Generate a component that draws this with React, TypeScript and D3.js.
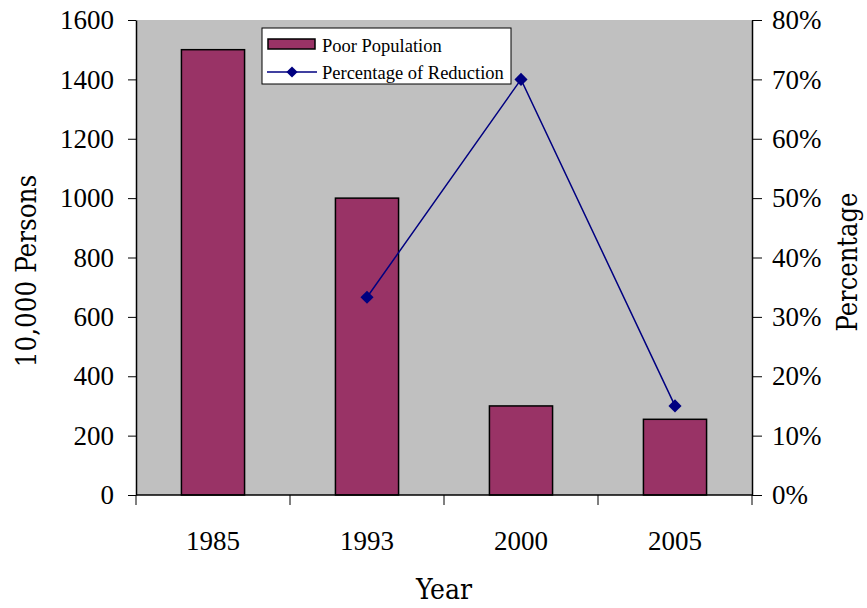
import React, { useRef, useEffect } from "react";
import * as d3 from "d3";

const years = ["1985", "1993", "2000", "2005"];
const poorPopulation = [1500, 1000, 300, 255];
const reductionYears = ["1993", "2000", "2005"];
const reductionPct = [33.3, 70, 15];
const leftTicks = [0, 200, 400, 600, 800, 1000, 1200, 1400, 1600];
const rightTicks = [0, 10, 20, 30, 40, 50, 60, 70, 80];

const App: React.FC = () => {
  const ref = useRef<SVGSVGElement>(null);

  useEffect(() => {
    if (!ref.current) return;
    const svg = d3.select(ref.current);
    svg.selectAll("*").remove();

    const width = 867;
    const height = 608;
    const left = 136;
    const right = 752;
    const top = 20;
    const bottom = 495;
    const numFont = "Liberation Serif, Times New Roman, serif";
    const titleFont = "DejaVu Serif Condensed, DejaVu Serif, serif";

    svg.attr("width", width).attr("height", height);

    const x = d3.scaleBand().domain(years).range([left, right]);
    const yL = d3.scaleLinear().domain([0, 1600]).range([bottom, top]);
    const yR = d3.scaleLinear().domain([0, 80]).range([bottom, top]);

    // plot area
    svg
      .append("rect")
      .attr("x", left)
      .attr("y", top)
      .attr("width", right - left)
      .attr("height", bottom - top)
      .attr("fill", "#C0C0C0");

    // bars
    const barW = x.bandwidth() * 0.41;
    svg
      .selectAll("rect.bar")
      .data(years)
      .enter()
      .append("rect")
      .attr("class", "bar")
      .attr("x", (d) => (x(d) ?? 0) + x.bandwidth() / 2 - barW / 2)
      .attr("y", (d, i) => yL(poorPopulation[i]))
      .attr("width", barW)
      .attr("height", (d, i) => bottom - yL(poorPopulation[i]))
      .attr("fill", "#993366")
      .attr("stroke", "#000")
      .attr("stroke-width", 1.5);

    // left axis
    const gL = svg
      .append("g")
      .attr("transform", `translate(${left},0)`)
      .call(
        d3
          .axisLeft(yL)
          .tickValues(leftTicks)
          .tickFormat(d3.format("d"))
          .tickSize(8)
          .tickPadding(14)
          .tickSizeOuter(0)
      );
    gL.attr("font-family", numFont);
    gL.selectAll("text").style("font-family", numFont).attr("font-size", 27).attr("fill", "#000");
    gL.select(".domain").attr("stroke", "#000").attr("stroke-width", 1.5);

    // right axis
    const gR = svg
      .append("g")
      .attr("transform", `translate(${right},0)`)
      .call(
        d3
          .axisRight(yR)
          .tickValues(rightTicks)
          .tickFormat((d) => `${d}%`)
          .tickSize(10)
          .tickPadding(10)
          .tickSizeOuter(0)
      );
    gR.attr("font-family", numFont);
    gR.selectAll("text").style("font-family", numFont).attr("font-size", 27).attr("fill", "#000");
    gR.select(".domain").attr("stroke", "#000").attr("stroke-width", 1.5);

    // x axis
    svg
      .append("line")
      .attr("x1", left)
      .attr("x2", right)
      .attr("y1", bottom)
      .attr("y2", bottom)
      .attr("stroke", "#000")
      .attr("stroke-width", 1.5);
    const boundaries = [...years.map((d) => x(d) ?? 0), right];
    svg
      .selectAll("line.xtick")
      .data(boundaries)
      .enter()
      .append("line")
      .attr("x1", (d) => d)
      .attr("x2", (d) => d)
      .attr("y1", bottom)
      .attr("y2", bottom + 10)
      .attr("stroke", "#000");
    svg
      .selectAll("text.xlab")
      .data(years)
      .enter()
      .append("text")
      .attr("x", (d) => (x(d) ?? 0) + x.bandwidth() / 2)
      .attr("y", 550)
      .attr("text-anchor", "middle")
      .style("font-family", numFont)
      .attr("font-size", 27)
      .text((d) => d);

    // line series
    const line = d3
      .line<number>()
      .x((d, i) => (x(reductionYears[i]) ?? 0) + x.bandwidth() / 2)
      .y((d) => yR(d));
    svg
      .append("path")
      .datum(reductionPct)
      .attr("d", line)
      .attr("fill", "none")
      .attr("stroke", "#000080")
      .attr("stroke-width", 1.5);
    svg
      .selectAll("path.marker")
      .data(reductionPct)
      .enter()
      .append("path")
      .attr("d", d3.symbol(d3.symbolDiamond2, 110)())
      .attr(
        "transform",
        (d, i) => `translate(${(x(reductionYears[i]) ?? 0) + x.bandwidth() / 2},${yR(d)})`
      )
      .attr("fill", "#000080");

    // axis titles
    svg
      .append("text")
      .attr("x", 444)
      .attr("y", 599)
      .attr("text-anchor", "middle")
      .style("font-family", titleFont)
      .attr("font-size", 28)
      .text("Year");
    svg
      .append("text")
      .attr("transform", "translate(36,271) rotate(-90)")
      .attr("text-anchor", "middle")
      .style("font-family", titleFont)
      .attr("font-size", 27.5)
      .text("10,000 Persons");
    svg
      .append("text")
      .attr("transform", "translate(857,262) rotate(-90)")
      .attr("text-anchor", "middle")
      .style("font-family", titleFont)
      .attr("font-size", 27)
      .text("Percentage");

    // legend
    const lg = svg.append("g").attr("transform", "translate(262,28)");
    lg.append("rect")
      .attr("width", 249)
      .attr("height", 56)
      .attr("fill", "#fff")
      .attr("stroke", "#000")
      .attr("stroke-width", 1);
    lg.append("rect")
      .attr("x", 6)
      .attr("y", 11)
      .attr("width", 47)
      .attr("height", 10)
      .attr("fill", "#993366")
      .attr("stroke", "#000")
      .attr("stroke-width", 1.5);
    lg.append("line")
      .attr("x1", 5)
      .attr("x2", 55)
      .attr("y1", 44)
      .attr("y2", 44)
      .attr("stroke", "#000080")
      .attr("stroke-width", 1.5);
    lg.append("path")
      .attr("d", d3.symbol(d3.symbolDiamond2, 80)())
      .attr("transform", "translate(30,44)")
      .attr("fill", "#000080");
    lg.append("text")
      .attr("x", 60)
      .attr("y", 24)
      .style("font-family", numFont)
      .attr("font-size", 18.5)
      .text("Poor Population");
    lg.append("text")
      .attr("x", 60)
      .attr("y", 51)
      .style("font-family", numFont)
      .attr("font-size", 18.5)
      .text("Percentage of Reduction");
  }, []);

  return <svg ref={ref} style={{ position: "absolute", left: 0, top: 0 }} />;
};

export default App;
